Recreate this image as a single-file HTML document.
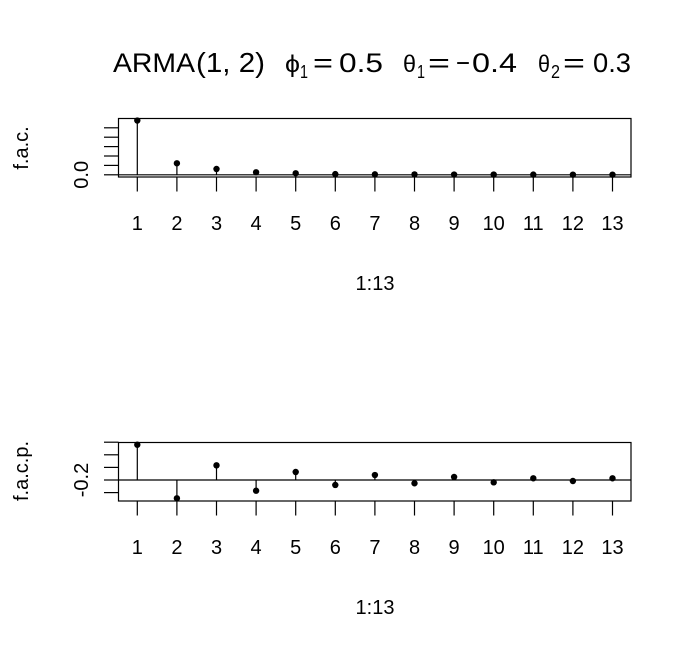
<!DOCTYPE html>
<html><head><meta charset="utf-8"><style>
body{margin:0;background:#fff;}
svg text{font-family:"Liberation Sans",sans-serif;fill:#000;}
</style></head><body>
<svg id="c" width="691" height="648" xmlns="http://www.w3.org/2000/svg">
<g font-size="27" lengthAdjust="spacingAndGlyphs">
<text x="113" y="72" textLength="82" lengthAdjust="spacingAndGlyphs">ARMA</text>
<text x="196" y="72" font-family="Liberation Serif" font-size="28" textLength="69" lengthAdjust="spacingAndGlyphs">(1, 2)</text>
<text x="285" y="72" font-family="Liberation Serif" font-size="24" textLength="15" lengthAdjust="spacingAndGlyphs">ϕ</text>
<text x="300" y="78" font-size="18" textLength="8" lengthAdjust="spacingAndGlyphs">1</text>
<text x="313" y="72" textLength="20" lengthAdjust="spacingAndGlyphs">=</text>
<text x="339" y="72" textLength="44" lengthAdjust="spacingAndGlyphs">0.5</text>
<text x="403" y="72" font-family="Liberation Serif" font-size="24" textLength="13" lengthAdjust="spacingAndGlyphs">θ</text>
<text x="417" y="78" font-size="18" textLength="8" lengthAdjust="spacingAndGlyphs">1</text>
<text x="428" y="72" textLength="22" lengthAdjust="spacingAndGlyphs">=</text>
<text x="456" y="72" textLength="14" lengthAdjust="spacingAndGlyphs">−</text>
<text x="472" y="72" textLength="45" lengthAdjust="spacingAndGlyphs">0.4</text>
<text x="538" y="72" font-family="Liberation Serif" font-size="24" textLength="12" lengthAdjust="spacingAndGlyphs">θ</text>
<text x="551" y="78" font-size="18" textLength="9" lengthAdjust="spacingAndGlyphs">2</text>
<text x="563" y="72" textLength="22" lengthAdjust="spacingAndGlyphs">=</text>
<text x="593" y="72" textLength="38" lengthAdjust="spacingAndGlyphs">0.3</text>
</g>
</svg>
<script>
const lags=[1,2,3,4,5,6,7,8,9,10,11,12,13];
const acfValues=[1.155,0.245,0.124,0.053,0.032,0.015,0.010,0.008,0.006,0.005,0.004,0.003,0.003];
const pacfValues=[0.56,-0.29,0.233,-0.17,0.127,-0.079,0.079,-0.052,0.048,-0.037,0.027,-0.016,0.027];
const acfTicks=[0,0.2,0.4,0.6,0.8,1.0];
const acfTickLabels=["0.0","","","","",""];
const pacfTicks=[-0.2,0,0.2,0.4,0.6];
const pacfTickLabels=["","-0.2","","",""];
const NS="http://www.w3.org/2000/svg";
const svg=document.getElementById('c');
function mk(t,a,p){const e=document.createElementNS(NS,t);for(const k in a)e.setAttribute(k,a[k]);(p||svg).appendChild(e);return e;}
function panel(cfg){
 const g=mk('g',{});
 
 
 const xs=v=>137.3+(v-1)*39.6;
 const ys=v=>cfg.zero-v*cfg.ppu;
 const box=mk('rect',{x:118.5,y:cfg.top,width:512.5,height:cfg.bot-cfg.top,fill:'none',stroke:'#000','stroke-width':1.2},g);
 
 
 const zl=mk('line',{x1:118.5,x2:631,y1:ys(0),y2:ys(0),stroke:'#000','stroke-width':1.2},g);
 
 
 cfg.ticks.forEach((t,i)=>{
  const y=ys(t);
  const tk=mk('line',{x1:104,x2:118.5,y1:y,y2:y,stroke:'#000','stroke-width':1.2},g);
  
  
  if(cfg.labels[i]){
   const tx=mk('text',{x:0,y:0,'font-size':20,'text-anchor':'middle',transform:`translate(88,${y}) rotate(-90)`},g);
   tx.textContent=cfg.labels[i];
   
   
  }
 });
 lags.forEach((l,i)=>{
  const x=xs(l);
  const tk=mk('line',{x1:x,x2:x,y1:cfg.bot,y2:cfg.bot+14.5,stroke:'#000','stroke-width':1.2},g);
  
  
  const tl=mk('text',{x:x,y:cfg.bot+53,'font-size':20,'text-anchor':'middle'},g);
  tl.textContent=l;
  
  
  const v=cfg.vals[i];
  const st=mk('line',{x1:x,x2:x,y1:ys(0),y2:ys(v),stroke:'#000','stroke-width':1.2},g);
  
  
  const p=mk('circle',{cx:x,cy:ys(v),r:3.2,fill:'#000'},g);
  
  
 });
 const xl=mk('text',{x:375,y:cfg.bot+113,'font-size':20,'text-anchor':'middle'},g);
 xl.textContent='1:13';
 
 
 const yl=mk('text',{x:0,y:0,'font-size':20,'text-anchor':'middle',transform:`translate(28,${cfg.ylY}) rotate(-90)`},g);
 yl.textContent=cfg.ylab;
 
 
}
panel({name:'acf-panel',top:118.5,bot:177,zero:174.8,ppu:47,vals:acfValues,ticks:acfTicks,labels:acfTickLabels,ylab:'f.a.c.',ylY:148});
panel({name:'pacf-panel',top:442.5,bot:501,zero:480,ppu:63,vals:pacfValues,ticks:pacfTicks,labels:pacfTickLabels,ylab:'f.a.c.p.',ylY:471});
</script>
</body></html>
